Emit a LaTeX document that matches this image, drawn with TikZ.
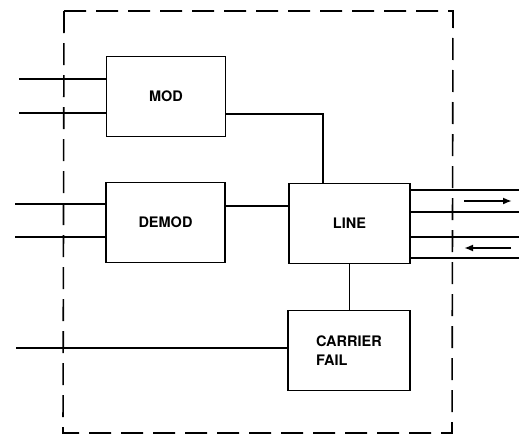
\documentclass[tikz,border=0pt]{standalone}
\usepackage{fontspec}
\setmainfont{TeX Gyre Heros}
\usetikzlibrary{positioning, arrows.meta}

\begin{document}
\begin{tikzpicture}[x=1pt, y=-1pt, line width=1.3pt,
    unit/.style={draw, minimum width=119pt, minimum height=80pt, font=\fontsize{14.5}{19}\selectfont\bfseries, align=left}]
    \useasboundingbox (0,0) rectangle (521,436);
    % outer dashed frame
    \draw[line width=1.6pt, dash pattern=on 22pt off 10pt] (64,11) -- (453,11) -- (452,433) -- (63,433) -- cycle;
	\node[unit] (mod) at (166,96.5) {MOD};
    \node[unit] (demod) at (165.5,222.5) {DEMOD};
    \node[unit, minimum width=121pt] (line) at (349.5,223.5) {LINE};
    \node[unit, minimum width=122pt] (cf) at (349,350.5) {CARRIER\\FAIL};
    \draw ([yshift=17.5pt]mod.west)--++(180:87pt);
    \draw ([yshift=-16.5pt]mod.west)--++(180:87pt);
    \draw ([yshift=18.5pt]demod.west)--++(180:90pt);
    \draw ([yshift=-14.5pt]demod.west)--++(180:90pt);
    \draw ([yshift=-17.5pt]mod.east) -| ([xshift=-26.5pt]line.north);
    \draw ([yshift=16.5pt]demod.east) coordinate (aux) -- (aux -| line.west);
    \draw (line.south) -- (line.south |- cf.north);
    \draw ([yshift=2.5pt]cf.west)--++(180:271pt);
    \foreach \dy in {-33.5, -11.5, 13.5, 34.5}
        \draw ([yshift=-\dy pt]line.east)--++(0:108pt);
    \draw[line width=1.8pt, -{Latex[length=9pt, width=7pt]}] (464,201) -- (512,201);
    \draw[line width=1.8pt, -{Latex[length=9pt, width=7pt]}] (511,248) -- (464,248);
\end{tikzpicture}
\end{document}
